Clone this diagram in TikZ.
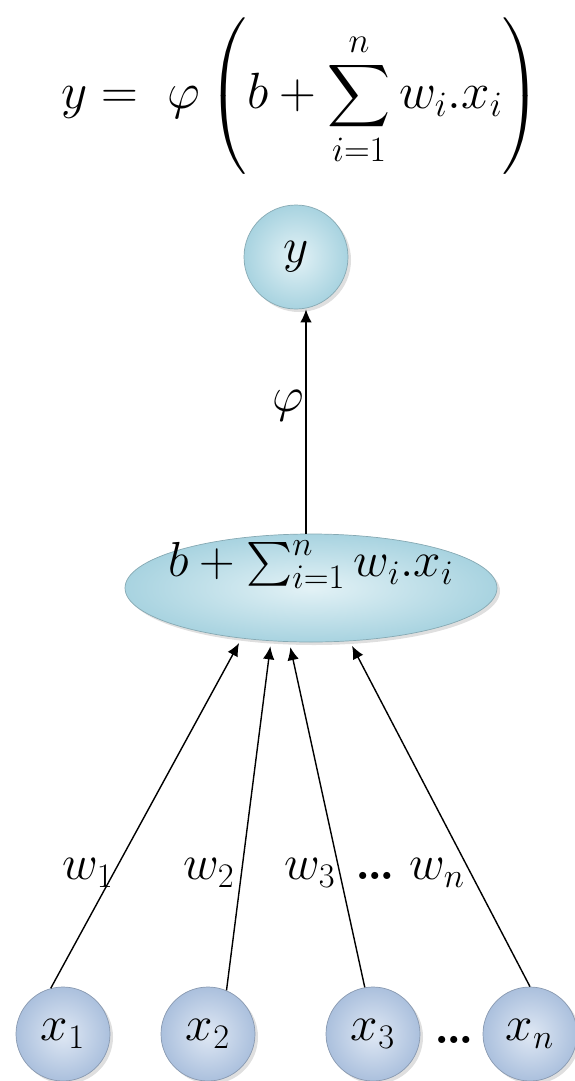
\documentclass[tikz,border=0pt]{standalone}
\usepackage{fix-cm}
\usepackage{exscale}
\usepackage{amsmath}
\usetikzlibrary{arrows.meta,shapes.geometric,shadows}
\definecolor{Aqua}{HTML}{A8D3E0}
\definecolor{AquaLight}{HTML}{E3F2F6}
\definecolor{Lilac}{HTML}{ABC0DD}
\definecolor{LilacLight}{HTML}{DFE8F4}

\begin{document}
\begin{tikzpicture}[
    big/.style={font=\fontsize{28}{33}\selectfont},
    outnode/.style={circle,minimum size=2.08cm,inner sep=0pt,draw=Aqua!80!black,line width=.4pt,inner color=AquaLight,outer color=Aqua,drop shadow={opacity=.25,shadow xshift=.6mm,shadow yshift=-.6mm}},
    oval/.style={ellipse,minimum width=7.44cm,minimum height=2.16cm,inner sep=0pt,draw=Aqua!80!black,line width=.4pt,inner color=AquaLight,outer color=Aqua,drop shadow={opacity=.25,shadow xshift=.6mm,shadow yshift=-.6mm}},
    innode/.style={circle,minimum size=1.88cm,inner sep=0pt,draw=Lilac!80!black,line width=.4pt,inner color=LilacLight,outer color=Lilac,drop shadow={opacity=.25,shadow xshift=.6mm,shadow yshift=-.6mm}},
    arr/.style={-{Latex[length=2.6mm,width=2.3mm]},line width=.8pt}
  ]
    \useasboundingbox (0,0) rectangle (11.48,-21.62);
    \node[font=\fontsize{29}{35}\selectfont,inner sep=0pt] (eq) at (6.02,-1.92) {$\displaystyle y =\ \varphi\left(b+\sum_{i=1}^{n} w_i.x_i\right)$};
    \node[outnode,big] (y) at (5.92,-5.14) {$y$};
    \node[oval] (sum) at (6.22,-11.76) {};
    \node[big] (sumtxt) at (6.22,-11.30) {$b+\sum_{i=1}^{n} w_i.x_i$};
    \node[innode,big] (x1) at (1.26,-20.68) {$x_1$};
    \node[innode,big] (x2) at (4.16,-20.68) {$x_2$};
    \node[innode,big] (x3) at (7.46,-20.68) {$x_3$};
    \node[innode,big] (xn) at (10.60,-20.68) {$x_n$};
    \node[big] (dots) at (9.08,-20.80) {\textbf{\dots}};
    \coordinate (top) at ([xshift=-1mm]sum.north);
    \draw[arr] (top) -- (top |- y.south) node[pos=.57,left=-1mm,big] (phi) {$\varphi$};
    \draw[arr,shorten >=3pt] (x1.105) -- (sum.216.5); \draw[arr,shorten >=3pt] (x2.67) -- (sum.233.5); \draw[arr,shorten >=3pt] (x3.100) -- (sum.248.5); \draw[arr,shorten >=3pt] (xn.90) -- (sum.306.5);
    \node[big] (w1) at (1.76,-17.46) {$w_1$};
    \node[big] (w2) at (4.18,-17.46) {$w_2$};
    \node[big] (w3) at (6.20,-17.46) {$w_3$};
    \node[big] (wn) at (8.20,-17.46) {\textbf{\dots}\ $w_n$};
  \end{tikzpicture}
\end{document}
